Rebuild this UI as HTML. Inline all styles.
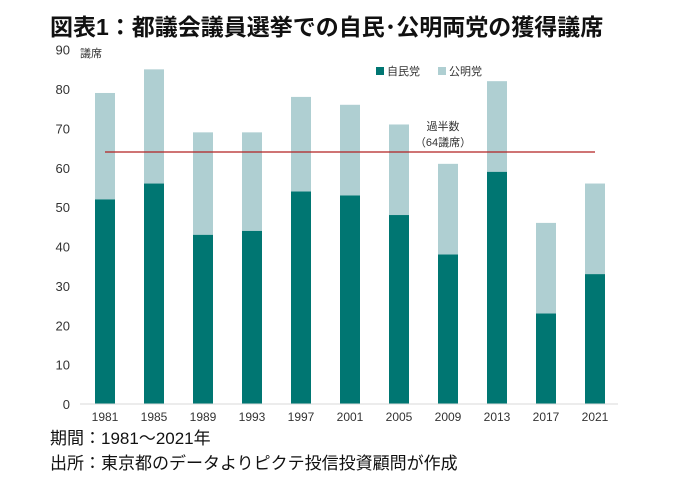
<!DOCTYPE html>
<html><head><meta charset="utf-8"><style>
body{margin:0;background:#fff;font-family:"Liberation Sans","Noto Sans CJK JP",sans-serif;}
svg text{font-family:"Liberation Sans","Noto Sans CJK JP",sans-serif;}
</style></head><body>
<svg id="c" width="680" height="479">
<text x="50" y="35" font-size="23" font-weight="bold" fill="#111">図表1：都議会議員選挙での自民･公明両党の獲得議席</text>
<text x="80" y="57" font-size="11" fill="#333">議席</text>
<g id="yaxis"></g>
<g id="bars"></g>
<g id="xaxis"></g>
<g>
<rect x="376" y="67" width="8" height="8" fill="#007672"/>
<text x="387" y="75" font-size="11" fill="#333">自民党</text>
<rect x="438" y="67" width="8" height="8" fill="#afcfd2"/>
<text x="449" y="75" font-size="11" fill="#333">公明党</text>
</g>
<text x="443" y="130" font-size="11" fill="#333" text-anchor="middle">過半数</text>
<text x="443" y="146" font-size="11" fill="#333" text-anchor="middle">（64議席）</text>
<text x="50" y="444" font-size="17" fill="#111">期間：1981～2021年</text>
<text x="50" y="469" font-size="17" fill="#111">出所：東京都のデータよりピクテ投信投資顧問が作成</text>
</svg>
<script>
const years=["1981","1985","1989","1993","1997","2001","2005","2009","2013","2017","2021"];
const ldp=[52,56,43,44,54,53,48,38,59,23,33];
const komeito=[27,29,26,25,24,23,23,23,23,23,23];
const yTicks=[0,10,20,30,40,50,60,70,80,90];
const majority=64;
const NS="http://www.w3.org/2000/svg";
const y=v=>404-v*3.937;
const x=i=>105+i*49;
function mk(tag,attrs,parent){const e=document.createElementNS(NS,tag);for(const k in attrs)e.setAttribute(k,attrs[k]);parent.appendChild(e);return e;}
const ya=document.getElementById('yaxis'),bg=document.getElementById('bars'),xa=document.getElementById('xaxis');
yTicks.forEach(t=>{const e=mk('text',{x:70,y:y(t)+5,'font-size':13,fill:'#333','text-anchor':'end'},ya);e.textContent=t;

});
years.forEach((yr,i)=>{
const a=mk('rect',{x:x(i)-10,y:y(ldp[i]),width:20,height:y(0)-y(ldp[i]),fill:'#007672'},bg);


const b=mk('rect',{x:x(i)-10,y:y(ldp[i]+komeito[i]),width:20,height:y(ldp[i])-y(ldp[i]+komeito[i]),fill:'#afcfd2'},bg);


const t=mk('text',{x:x(i),y:421,'font-size':12,fill:'#333','text-anchor':'middle'},xa);t.textContent=yr;


});
const ax=mk('line',{x1:80,x2:618,y1:y(0),y2:y(0),stroke:'#d9d9d9','stroke-width':1},xa);


const ml=mk('line',{x1:x(0),x2:x(years.length-1),y1:y(majority),y2:y(majority),stroke:'#b22222','stroke-width':1.2},bg);


</script>
</body></html>
